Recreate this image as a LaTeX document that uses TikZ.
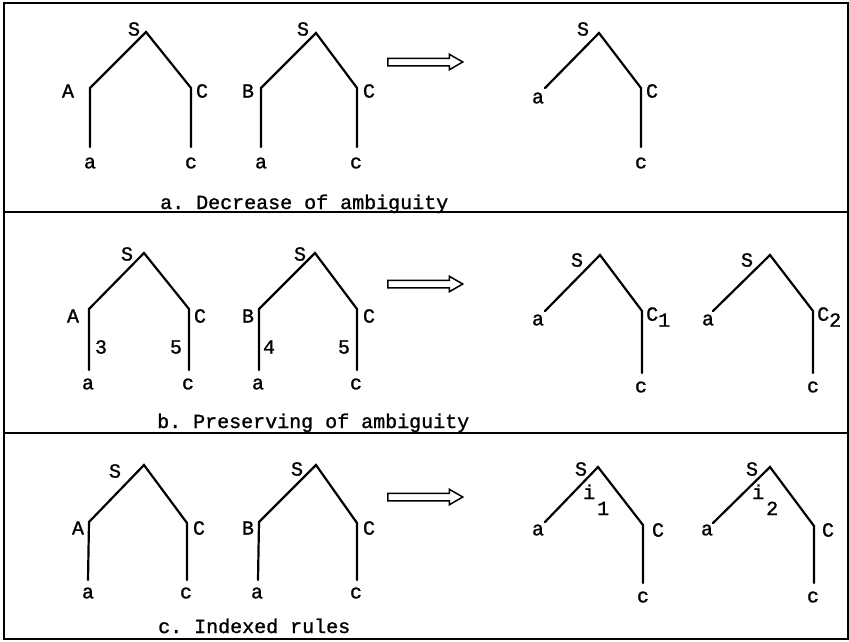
\documentclass[tikz,border=0pt]{standalone}
\usepackage{fontspec}
\setmonofont[FakeBold=1.2]{Liberation Mono}
\usetikzlibrary{shapes.arrows}

\tikzstyle{sym} = [
    font=\fontsize{20}{24}\selectfont\ttfamily,
    inner sep=0pt
]
\tikzstyle{caption} = [
    font=\fontsize{20}{24}\selectfont\ttfamily,
    inner sep=0pt,
    anchor=base west
]
\tikzstyle{branch} = [
    line width=2.2pt,
    line cap=round
]
\tikzstyle{frame} = [
    line width=1.4pt
]
\tikzstyle{implies} = [
    single arrow,
    draw,
    line width=1.5pt,
    minimum height=75pt,
    inner xsep=0pt,
    inner ysep=3pt,
    single arrow head extend=4pt,
    single arrow tip angle=60
]

\begin{document}
\begin{tikzpicture}[x=1pt, y=-1pt]
        \useasboundingbox (0,0) rectangle (849,641);
        % Frame and panel rules
        \draw[frame] (4,3) rectangle (848,639);
        \draw[frame] (4,212) -- (848,212);
        \draw[frame] (4,433) -- (848,433);

        % ---- a. Decrease of ambiguity
        \coordinate (a1top) at (146,32);
        \coordinate (a1l) at (90,88);  \coordinate (a1lb) at (90,147);
        \coordinate (a1r) at (191,88); \coordinate (a1rb) at (191,147);
        \draw[branch] (a1lb) -- (a1l) -- (a1top) -- (a1r) -- (a1rb);
        \node[sym] (a1S) at (134,29) {S};
        \node[sym] (a1A) at (68,91) {A};
        \node[sym] (a1C) at (202,91) {C};
        \node[sym] (a1a) at (90,163) {a};
        \node[sym] (a1c) at (191,163) {c};

        \coordinate (a2top) at (316,33);
        \coordinate (a2l) at (261,88);  \coordinate (a2lb) at (261,147);
        \coordinate (a2r) at (357,88);  \coordinate (a2rb) at (357,147);
        \draw[branch] (a2lb) -- (a2l) -- (a2top) -- (a2r) -- (a2rb);
        \node[sym] (a2S) at (303,29) {S};
        \node[sym] (a2B) at (248,91) {B};
        \node[sym] (a2C) at (369,91) {C};
        \node[sym] (a2a) at (261,163) {a};
        \node[sym] (a2c) at (356,163) {c};

        \node[implies] (imp1) at (422,62) {};

        \coordinate (a3top) at (599,33);
        \coordinate (a3l) at (545,88);
        \coordinate (a3r) at (641,88);  \coordinate (a3rb) at (641,147);
        \draw[branch] (a3l) -- (a3top) -- (a3r) -- (a3rb);
        \node[sym] (a3S) at (583,29) {S};
        \node[sym] (a3a) at (538,98) {a};
        \node[sym] (a3C) at (652,91) {C};
        \node[sym] (a3c) at (641,163) {c};

        \node[caption] (capa) at (160,209) {a. Decrease of ambiguity};

        % ---- b. Preserving of ambiguity
        \coordinate (b1top) at (144,253);
        \coordinate (b1l) at (89,309);  \coordinate (b1lb) at (89,370);
        \coordinate (b1r) at (189,309); \coordinate (b1rb) at (189,370);
        \draw[branch] (b1lb) -- (b1l) -- (b1top) -- (b1r) -- (b1rb);
        \node[sym] (b1S) at (127,254) {S};
        \node[sym] (b1A) at (73,316) {A};
        \node[sym] (b1C) at (200,316) {C};
        \node[sym] (b1n3) at (101,347) {3};
        \node[sym] (b1n5) at (176,347) {5};
        \node[sym] (b1a) at (88,384) {a};
        \node[sym] (b1c) at (188,384) {c};

        \coordinate (b2top) at (315,253);
        \coordinate (b2l) at (259,309); \coordinate (b2lb) at (259,370);
        \coordinate (b2r) at (357,309); \coordinate (b2rb) at (357,370);
        \draw[branch] (b2lb) -- (b2l) -- (b2top) -- (b2r) -- (b2rb);
        \node[sym] (b2S) at (300,254) {S};
        \node[sym] (b2B) at (248,316) {B};
        \node[sym] (b2C) at (369,316) {C};
        \node[sym] (b2n4) at (269,347) {4};
        \node[sym] (b2n5) at (344,347) {5};
        \node[sym] (b2a) at (258,384) {a};
        \node[sym] (b2c) at (356,384) {c};

        \node[implies] (imp2) at (422,284) {};

        \coordinate (b3top) at (600,255);
        \coordinate (b3l) at (545,311);
        \coordinate (b3r) at (642,311); \coordinate (b3rb) at (642,373);
        \draw[branch] (b3l) -- (b3top) -- (b3r) -- (b3rb);
        \node[sym] (b3S) at (577,260) {S};
        \node[sym] (b3a) at (538,320) {a};
        \node[sym, anchor=west] (b3C) at (646,317) {C\raisebox{-6pt}{1}};
        \node[sym] (b3c) at (641,387) {c};

        \coordinate (b4top) at (770,255);
        \coordinate (b4l) at (713,311);
        \coordinate (b4r) at (813,311); \coordinate (b4rb) at (813,373);
        \draw[branch] (b4l) -- (b4top) -- (b4r) -- (b4rb);
        \node[sym] (b4S) at (747,260) {S};
        \node[sym] (b4a) at (708,320) {a};
        \node[sym, anchor=west] (b4C) at (817,317) {C\raisebox{-6pt}{2}};
        \node[sym] (b4c) at (813,387) {c};

        \node[caption] (capb) at (157,428) {b. Preserving of ambiguity};

        % ---- c. Indexed rules
        \coordinate (c1top) at (144,465);
        \coordinate (c1l) at (89,522);  \coordinate (c1lb) at (88,580);
        \coordinate (c1r) at (187,523); \coordinate (c1rb) at (187,580);
        \draw[branch] (c1lb) -- (c1l) -- (c1top) -- (c1r) -- (c1rb);
        \node[sym] (c1S) at (115,471) {S};
        \node[sym] (c1A) at (78,528) {A};
        \node[sym] (c1C) at (199,528) {C};
        \node[sym] (c1a) at (88,593) {a};
        \node[sym] (c1c) at (186,593) {c};

        \coordinate (c2top) at (316,465);
        \coordinate (c2l) at (259,522); \coordinate (c2lb) at (258,580);
        \coordinate (c2r) at (357,523); \coordinate (c2rb) at (357,580);
        \draw[branch] (c2lb) -- (c2l) -- (c2top) -- (c2r) -- (c2rb);
        \node[sym] (c2S) at (297,469) {S};
        \node[sym] (c2B) at (248,528) {B};
        \node[sym] (c2C) at (369,528) {C};
        \node[sym] (c2a) at (257,593) {a};
        \node[sym] (c2c) at (356,593) {c};

        \node[implies] (imp3) at (422,497) {};

        \coordinate (c3top) at (598,467);
        \coordinate (c3l) at (545,522);
        \coordinate (c3r) at (643,525); \coordinate (c3rb) at (643,583);
        \draw[branch] (c3l) -- (c3top) -- (c3r) -- (c3rb);
        \node[sym] (c3S) at (581,469) {S};
        \node[sym, anchor=base west] (c3i) at (583,499) {i\hspace{2pt}\raisebox{-16pt}{1}};
        \node[sym] (c3a) at (538,530) {a};
        \node[sym] (c3C) at (658,530) {C};
        \node[sym] (c3c) at (643,597) {c};

        \coordinate (c4top) at (770,467);
        \coordinate (c4l) at (713,523);
        \coordinate (c4r) at (814,526); \coordinate (c4rb) at (814,583);
        \draw[branch] (c4l) -- (c4top) -- (c4r) -- (c4rb);
        \node[sym] (c4S) at (752,469) {S};
        \node[sym, anchor=base west] (c4i) at (752,499) {i\hspace{2pt}\raisebox{-16pt}{2}};
        \node[sym] (c4a) at (707,530) {a};
        \node[sym] (c4C) at (828,530) {C};
        \node[sym] (c4c) at (813,597) {c};

        \node[caption] (capc) at (158,633) {c. Indexed rules};
    \end{tikzpicture}
\end{document}
